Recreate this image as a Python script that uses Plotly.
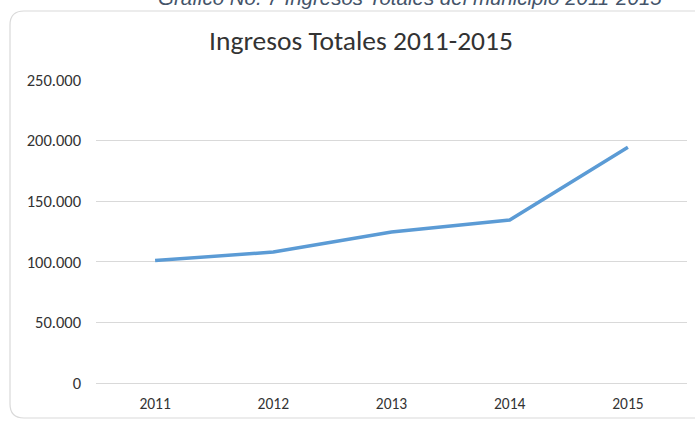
import plotly.graph_objects as go

years = ["2011", "2012", "2013", "2014", "2015"]
ingresos = [101000, 108000, 124500, 134500, 194500]
y_tickvals = [0, 50000, 100000, 150000, 200000, 250000]
y_ticktext = ["0", "50.000", "100.000", "150.000", "200.000", "250.000"]

W, H = 695, 421
ML, MR, MT, MB = 96, 8, 80, 38
PW, PH = W - ML - MR, H - MT - MB

def px(x):
    return (x - ML) / PW

def py(y):
    return (H - MB - y) / PH

fig = go.Figure()
fig.add_trace(go.Scatter(
    x=years, y=ingresos, mode="lines",
    line=dict(color="#5B9BD5", width=3.5),
    hoverinfo="x+y",
))

# rounded chart border
x0, x1, y0, y1, r = 10, 705, 11, 418, 14
path = (
    f"M {px(x0 + r)} {py(y0)} L {px(x1)} {py(y0)} "
    f"M {px(x1)} {py(y1)} L {px(x0 + r)} {py(y1)} "
    f"Q {px(x0)} {py(y1)} {px(x0)} {py(y1 - r)} "
    f"L {px(x0)} {py(y0 + r)} "
    f"Q {px(x0)} {py(y0)} {px(x0 + r)} {py(y0)}"
)
fig.add_shape(type="path", path=path, xref="paper", yref="paper",
              line=dict(color="#D9D9D9", width=1.2), layer="below")

fig.add_annotation(
    text="<i>Gráfico No. 7 Ingresos Totales del municipio 2011-2015</i>",
    xref="paper", yref="paper", x=px(410), y=py(11),
    xanchor="center", yanchor="bottom", showarrow=False,
    font=dict(family="Liberation Sans, Arial", size=20.5, color="#44546A"),
)

fig.update_layout(
    width=W, height=H,
    margin=dict(l=ML, r=MR, t=MT, b=MB),
    paper_bgcolor="white", plot_bgcolor="white",
    showlegend=False,
    title=dict(text="Ingresos Totales 2011-2015", x=361 / W, xanchor="center",
               y=1 - 40 / H, yanchor="middle",
               font=dict(family="Carlito, Lato, Liberation Sans", size=27.5, color="#333333")),
    xaxis=dict(type="category", range=[-0.5, 4.5], showgrid=False,
               showline=True, linecolor="#D9D9D9", linewidth=1, ticks="",
               tickfont=dict(family="Carlito, Lato, Liberation Sans", size=15.5, color="#333333"),
               ticklabelstandoff=6, fixedrange=True),
    yaxis=dict(range=[0, 250000], tickvals=y_tickvals, ticktext=y_ticktext,
               showgrid=True, gridcolor="#D9D9D9", gridwidth=1, zeroline=False,
               showline=False, ticks="",
               tickfont=dict(family="Carlito, Lato, Liberation Sans", size=16.5, color="#333333"),
               ticklabelstandoff=14, fixedrange=True),
)

fig.write_html("out.html", config={"displayModeBar": False},
               post_script="document.body.style.margin='0';document.body.style.overflow='hidden';")
